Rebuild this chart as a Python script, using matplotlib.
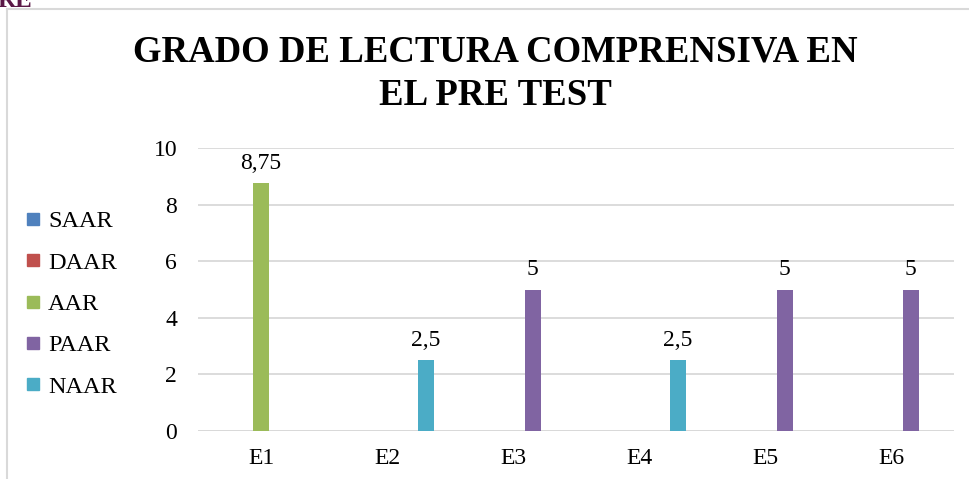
import matplotlib
matplotlib.use("Agg")
import matplotlib.pyplot as plt
import numpy as np
from matplotlib.lines import Line2D

# data
students = ["E1", "E2", "E3", "E4", "E5", "E6"]
series = ["SAAR", "DAAR", "AAR", "PAAR", "NAAR"]
saar = [0, 0, 0, 0, 0, 0]
daar = [0, 0, 0, 0, 0, 0]
aar = [8.75, 0, 0, 0, 0, 0]
paar = [0, 0, 5, 0, 5, 5]
naar = [0, 2.5, 0, 2.5, 0, 0]
colors = ["#4F81BD", "#C0504D", "#9BBB59", "#8064A2", "#4BACC6"]

plt.rcParams["font.family"] = ["Liberation Serif", "DejaVu Serif"]

fig = plt.figure(figsize=(9.7, 4.79), dpi=100)
ax = fig.add_axes([198 / 970, 1 - 431 / 479, 756 / 970, 283 / 479])

x = np.arange(len(students))
slot = 0.155
width = 0.127
values = [saar, daar, aar, paar, naar]

for j, (name, vals) in enumerate(zip(series, values)):
    pos = x + (j - 2) * slot
    bars = ax.bar(pos, vals, width=width, color=colors[j], label=name, zorder=3)
    for b, v in zip(bars, vals):
        if v:
            txt = str(v).replace(".", ",")
            if txt.endswith(",0"):
                txt = txt[:-2]
            ax.annotate(txt, (b.get_x() + b.get_width() / 2, v),
                        xytext=(0, 7), textcoords="offset points",
                        ha="center", va="bottom", fontsize=17)

ax.set_xlim(-0.5, len(students) - 0.5)
ax.set_ylim(0, 10)
ax.set_yticks(np.arange(0, 11, 2))
ax.set_xticks(x)
ax.set_xticklabels(students)
ax.tick_params(axis="both", length=0, labelsize=17)
ax.tick_params(axis="x", pad=12)
ax.tick_params(axis="y", pad=15)
ax.yaxis.grid(True, color="#d9d9d9", linewidth=1.3, zorder=0)
for s in ax.spines.values():
    s.set_visible(False)
ax.axhline(0, color="#d9d9d9", linewidth=1.3, zorder=2)

handles = [Line2D([], [], marker="s", linestyle="none", markersize=8,
                  markerfacecolor=c, markeredgecolor=c) for c in colors]
fig.legend(handles, series, loc="center left",
           bbox_to_anchor=(26 / 970, 1 - 304 / 479), frameon=False,
           fontsize=17.5, handlelength=0.6, handletextpad=0.3,
           labelspacing=0.8, borderpad=0, borderaxespad=0)

fig.text(0.511, 1 - 74 / 479, "GRADO DE LECTURA COMPRENSIVA EN\nEL PRE TEST",
         ha="center", va="center", fontsize=26.5, fontweight="bold",
         linespacing=1.3)

# frame edges of the pasted chart and the clipped heading above it
fig.add_artist(Line2D([7 / 970, 7 / 970], [0, 1 - 9 / 479],
                      color="#d9d9d9", linewidth=1.5))
fig.add_artist(Line2D([7 / 970, 1], [1 - 9 / 479, 1 - 9 / 479],
                      color="#d9d9d9", linewidth=1.5))
fig.text(-0.003, 1 - 7 / 479, "RE", color="#5a1846", fontsize=18,
         fontweight="bold", va="baseline", ha="left")

fig.savefig("out.png", dpi=100)
